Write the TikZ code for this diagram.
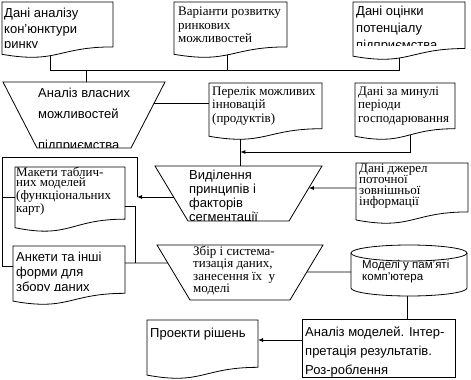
\documentclass[tikz,border=0pt]{standalone}
\usepackage{fontspec}
\setmainfont{Liberation Serif}
\setsansfont{Liberation Sans}
\usetikzlibrary{arrows.meta,calc}
\tikzset{
  shp/.style={draw=black,line width=0.8pt,fill=white},
  ln/.style={draw=black,line width=0.8pt},
  arr/.style={ln,-{Latex[length=5pt,width=4pt]}},
  txt/.style={inner sep=0pt,anchor=base west},
}
\newcommand{\sanst}[3]{\parbox[t]{170pt}{\raggedright\sffamily\fontsize{#1}{#2}\selectfont #3}}
\newcommand{\serift}[3]{\parbox[t]{170pt}{\raggedright\rmfamily\fontsize{#1}{#2}\selectfont #3}}
% document shape: x1, ytop, x2, height, pos on bottom curve, name of bottom coordinate
\newcommand{\docshape}[6]{%
  \path[shp] (#1,#2) -- (#3,#2) -- (#3,{#2+0.802*#4})
    .. controls ({(#1+#3)/2},{#2+0.802*#4}) and ({(#1+#3)/2},{#2+1.107*#4}) ..
    (#1,{#2+0.934*#4}) coordinate[pos=#5] (#6) -- cycle;}
\begin{document}
\begin{tikzpicture}[x=1pt,y=-1pt]
\useasboundingbox (0,0) rectangle (471,380);
% ---------- coordinates ----------
\coordinate (busy) at (0,70);
\coordinate (t1TL) at (3,82);   \coordinate (t1TR) at (165,82);
\coordinate (t1BL) at (37,148); \coordinate (t1BR) at (131,148);
\coordinate (t1in) at (86,82);
\coordinate (t1r) at ($(t1TR)!0.318!(t1BR)$);
\coordinate (pTL) at (209,83);
\coordinate (t2TL) at (155,166); \coordinate (t2TR) at (322,166);
\coordinate (t2BL) at (188,221); \coordinate (t2BR) at (289,221);
\coordinate (t2r) at ($(t2TR)!0.4!(t2BR)$);
\coordinate (t2l) at ($(t2TL)!0.5636!(t2BL)$);
\coordinate (t3TL) at (157,245); \coordinate (t3TR) at (323,245);
\coordinate (t3BL) at (190,300); \coordinate (t3BR) at (290,300);
\coordinate (t3l) at ($(t3TL)!0.327!(t3BL)$);
\coordinate (t3r) at ($(t3TR)!0.491!(t3BR)$);
\coordinate (djL) at (356,188);
\coordinate (ltop) at (2,157);
\coordinate (lbot) at (2,266);
\coordinate (aL) at (13,266);
\coordinate (mL) at (15,197);
\coordinate (mR) at (125,206);
\coordinate (aR) at (125,263);
\coordinate (j2) at (135,263);
\coordinate (cyL) at (351,272);
\coordinate (cyB) at (407,296);
\coordinate (anTL) at (302,319);
\coordinate (anL) at (302,340);
\coordinate (prR) at (258,320);
% ---------- shapes ----------
\docshape{2}{2}{113}{56}{0.58}{d1b}
\docshape{174}{2}{287}{56}{0.54}{d2b}
\docshape{353}{2}{465}{58}{0.61}{d3b}
\docshape{209}{83}{322}{57}{0.77}{pb}
\docshape{355}{83}{455}{57}{0.43}{dmb}
\docshape{15}{167}{125}{65}{0.5}{mb}
\docshape{13}{246}{125}{59}{0.5}{ab}
\docshape{356}{163}{468}{61}{0.5}{djb}
\docshape{147}{320}{258}{59}{0.5}{prb}
\path[shp] (t1TL) -- (t1TR) -- (t1BR) -- (t1BL) -- cycle;
\path[shp] (t2TL) -- (t2TR) -- (t2BR) -- (t2BL) -- cycle;
\path[shp] (t3TL) -- (t3TR) -- (t3BR) -- (t3BL) -- cycle;
\path[shp] (351,253) -- (351,288) arc[start angle=180,end angle=360,x radius=58pt,y radius=8pt] -- (467,253);
\path[shp] (409,253) ellipse [x radius=58pt,y radius=8pt];
\path[shp] (anTL) rectangle (455,377);
% ---------- connectors ----------
\coordinate (m1) at (pb |- 0,152);
\coordinate (j1) at (t2l -| 137,0);
\draw[ln] (d1b) -- (d1b |- busy) -- (d3b |- busy) -- (d3b);
\draw[ln] (d2b) -- (d2b |- busy);
\draw[ln] (t1in |- busy) -- (t1in);
\draw[ln] (t1r) -- (t1r -| pTL);
\draw[ln] (pb) -- (pb |- t2TL);
\draw[arr] (dmb) |- (m1);
\draw[arr] (djL) -- (t2r);
\draw[arr] (t2l) -- (j1);
\draw[ln] (j1) |- (ltop) -- (lbot) -- (aL);
\draw[ln] (mL -| ltop) -- (mL);
\draw[ln] (mR) -| (j2);
\draw[ln] (aR) -- (t3l);
\draw[ln] (cyL) -- (t3r);
\draw[ln] (cyB) -- (cyB |- anTL);
\draw[arr] (anL) -- (anL -| prR);
% ---------- texts ----------
\begin{scope}
  \clip (2,2) rectangle (113,47.5);
  \node[txt] (tx1) at (4,17.5) {\sanst{13}{15.5}{Дані аналізу\\кон’юнктури\\ринку}};
\end{scope}
\node[txt] (tx2) at (178,16) {\serift{13}{13.5}{Варіанти розвитку\\ринкових\\можливостей}};
\begin{scope}
  \clip (353,2) rectangle (465,45.5);
  \node[txt] (tx3) at (356,16) {\sanst{13}{16.5}{Дані оцінки\\потенціалу\\підприємства}};
\end{scope}
\begin{scope}
  \clip (3,82) rectangle (165,147);
  \node[txt] (tx4) at (38,97) {\sanst{13}{21}{Аналіз власних\\можливостей\\[10pt]підприємства}};
\end{scope}
\node[txt] (tx5) at (212,95) {\serift{13}{13.5}{Перелік можливих\\інновацій\\(продуктів)}};
\node[txt] (tx6) at (358,95) {\serift{13}{13.5}{Дані за минулі\\періоди\\господарювання}};
\node[txt] (tx7) at (16,176) {\serift{13}{10.7}{Макети таблич-\\них моделей\\(функціональних\\карт)}};
\begin{scope}
  \clip (155,166) rectangle (322,220.5);
  \node[txt] (tx8) at (189,179) {\sanst{13}{14}{Виділення\\принципів і\\факторів\\сегментації}};
\end{scope}
\node[txt] (tx9) at (359,172) {\serift{13}{11.2}{Дані джерел\\поточної\\зовнішньої\\інформації}};
\begin{scope}
  \clip (13,246) rectangle (125,290);
  \node[txt] (tx10) at (16,261) {\sanst{13}{15}{Анкети та інші\\форми для\\збору даних}};
\end{scope}
\node[txt] (tx11) at (193,255) {\serift{13}{12.5}{Збір і система-\\тизація даних,\\занесення їх\ \ у\\моделі}};
\node[txt] (tx12) at (362,268) {\sanst{11.5}{12}{Моделі у пам’яті\\комп’ютера}};
\node[txt] (tx13) at (150,337) {\sanst{13}{15}{Проекти рішень}};
\begin{scope}
  \clip (302,319) rectangle (455,376.5);
  \node[txt] (tx14) at (305,336) {\sanst{13}{19}{Аналіз моделей. Інтер-\\претація результатів.\\Роз-роблення}};
\end{scope}
\end{tikzpicture}
\end{document}
